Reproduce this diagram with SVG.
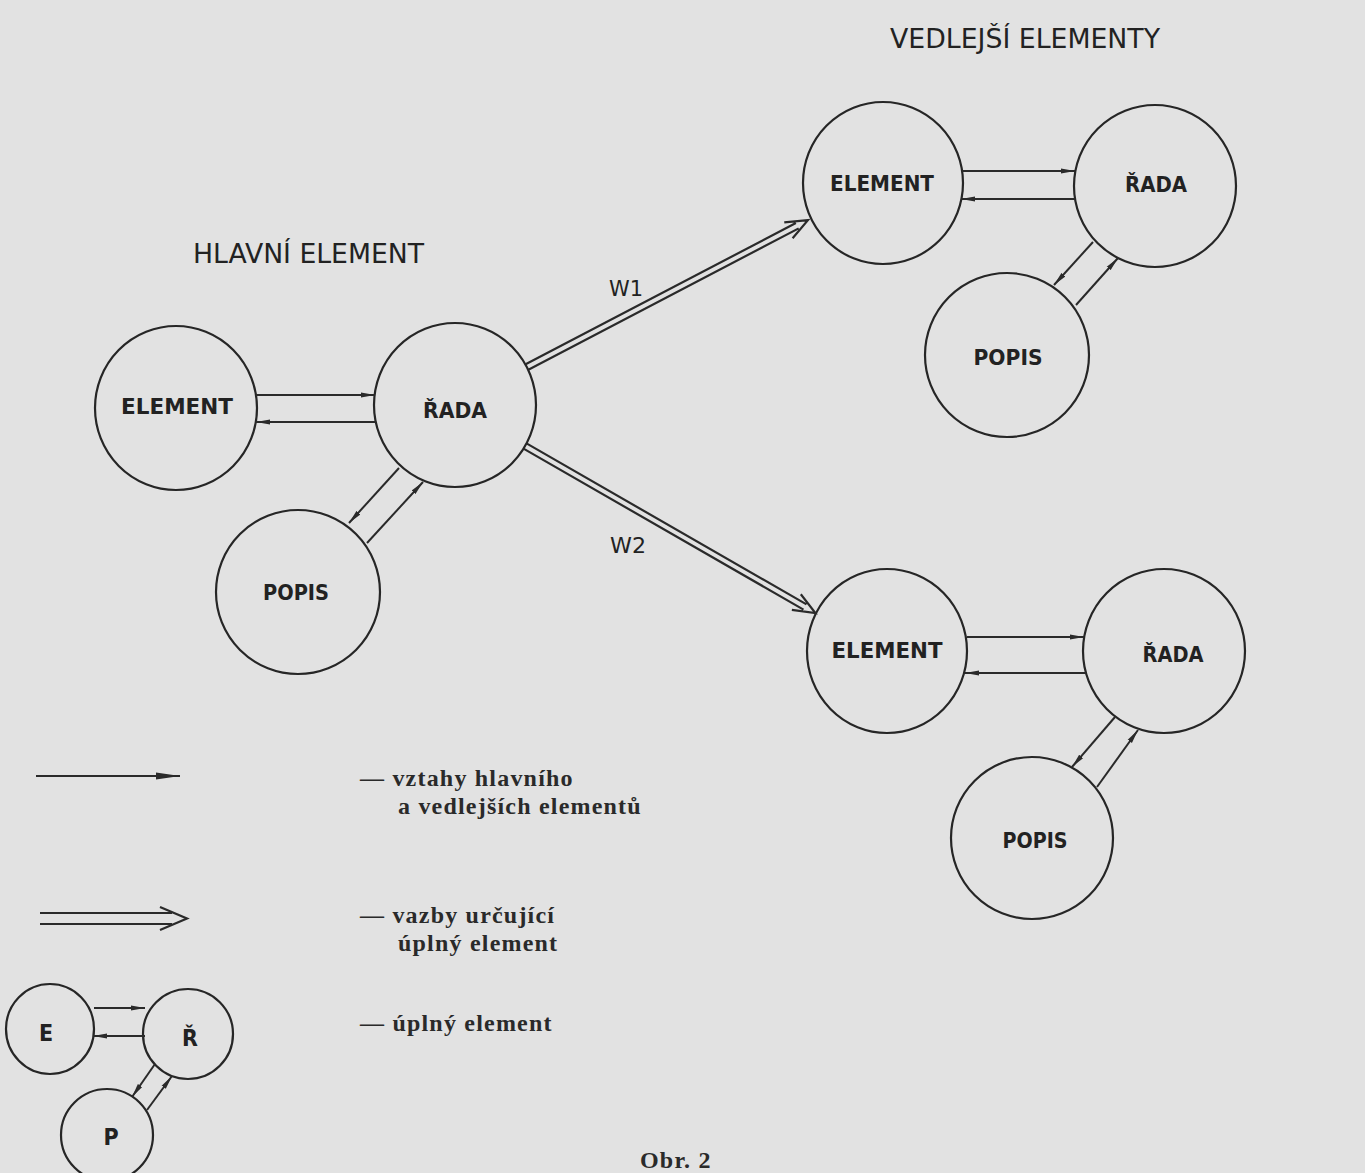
<svg xmlns="http://www.w3.org/2000/svg" width="1365" height="1173" viewBox="0 0 1365 1173">
<defs>
<style>
.node{fill:none;stroke:#262626;stroke-width:2.2}
.lbl{font-family:"DejaVu Sans",sans-serif;font-stretch:condensed;font-weight:bold;font-size:22px;fill:#222;text-anchor:middle}
.ttl{font-family:"DejaVu Sans",sans-serif;font-stretch:condensed;font-size:27px;fill:#222}
.ln{fill:none;stroke:#2a2a2a;stroke-width:2}
.dbl{fill:none;stroke:#2a2a2a;stroke-width:2.2}
.leg{font-family:"Liberation Serif",serif;font-weight:bold;font-size:24px;fill:#2a2a2a;letter-spacing:1.2px}
</style>
<marker id="ah" viewBox="0 0 14 6" refX="14" refY="3" markerWidth="14" markerHeight="6" markerUnits="userSpaceOnUse" orient="auto">
<path d="M0,0.4 L14,3 L0,5.6 Z" fill="#2a2a2a"/>
</marker>
<marker id="ahL" viewBox="0 0 24 8" refX="24" refY="4" markerWidth="24" markerHeight="8" markerUnits="userSpaceOnUse" orient="auto">
<path d="M0,0.5 L24,4 L0,7.5 Z" fill="#2a2a2a"/>
</marker>
</defs>
<rect width="1365" height="1173" fill="#e2e2e2"/>

<text class="ttl" x="193" y="263" textLength="231" lengthAdjust="spacingAndGlyphs">HLAVNÍ ELEMENT</text>
<text class="ttl" x="890" y="48" textLength="270" lengthAdjust="spacingAndGlyphs">VEDLEJŠÍ ELEMENTY</text>

<g id="main-element"><ellipse class="node" cx="176" cy="408" rx="81" ry="82"/><text class="lbl" x="177" y="414" textLength="112" lengthAdjust="spacingAndGlyphs">ELEMENT</text></g>
<g id="main-rada"><ellipse class="node" cx="455" cy="405" rx="81" ry="82"/><text class="lbl" x="455" y="418" textLength="64" lengthAdjust="spacingAndGlyphs">ŘADA</text></g>
<g id="main-popis"><ellipse class="node" cx="298" cy="592" rx="82" ry="82"/><text class="lbl" x="296" y="600" textLength="66" lengthAdjust="spacingAndGlyphs">POPIS</text></g>

<g id="v1-element"><ellipse class="node" cx="883" cy="183" rx="80" ry="81"/><text class="lbl" x="882" y="191" textLength="104" lengthAdjust="spacingAndGlyphs">ELEMENT</text></g>
<g id="v1-rada"><ellipse class="node" cx="1155" cy="186" rx="81" ry="81"/><text class="lbl" x="1156" y="192" textLength="62" lengthAdjust="spacingAndGlyphs">ŘADA</text></g>
<g id="v1-popis"><ellipse class="node" cx="1007" cy="355" rx="82" ry="82"/><text class="lbl" x="1008" y="365" textLength="69" lengthAdjust="spacingAndGlyphs">POPIS</text></g>

<g id="v2-element"><ellipse class="node" cx="887" cy="651" rx="80" ry="82"/><text class="lbl" x="887" y="658" textLength="111" lengthAdjust="spacingAndGlyphs">ELEMENT</text></g>
<g id="v2-rada"><ellipse class="node" cx="1164" cy="651" rx="81" ry="82"/><text class="lbl" x="1173" y="662" textLength="61" lengthAdjust="spacingAndGlyphs">ŘADA</text></g>
<g id="v2-popis"><ellipse class="node" cx="1032" cy="838" rx="81" ry="81"/><text class="lbl" x="1035" y="848" textLength="65" lengthAdjust="spacingAndGlyphs">POPIS</text></g>

<g id="mini-e"><ellipse class="node" cx="50" cy="1029" rx="44" ry="45"/><text class="lbl" x="46" y="1041" style="font-size:23px">E</text></g>
<g id="mini-r"><ellipse class="node" cx="188" cy="1034" rx="45" ry="45"/><text class="lbl" x="190" y="1046" style="font-size:23px">Ř</text></g>
<g id="mini-p"><ellipse class="node" cx="107" cy="1135" rx="46" ry="46"/><text class="lbl" x="111" y="1145" style="font-size:23px">P</text></g>

<g id="connectors">
<line class="ln" x1="256" y1="395" x2="375" y2="395" marker-end="url(#ah)"/>
<line class="ln" x1="376" y1="422" x2="256" y2="422" marker-end="url(#ah)"/>
<line class="ln" x1="399" y1="468" x2="349" y2="523" marker-end="url(#ah)"/>
<line class="ln" x1="367" y1="543" x2="423" y2="482" marker-end="url(#ah)"/>

<line class="ln" x1="962" y1="171" x2="1075" y2="171" marker-end="url(#ah)"/>
<line class="ln" x1="1075" y1="199" x2="961" y2="199" marker-end="url(#ah)"/>
<line class="ln" x1="1093" y1="242" x2="1054" y2="285" marker-end="url(#ah)"/>
<line class="ln" x1="1076" y1="305" x2="1118" y2="258" marker-end="url(#ah)"/>

<line class="ln" x1="967" y1="637" x2="1084" y2="637" marker-end="url(#ah)"/>
<line class="ln" x1="1086" y1="673" x2="965" y2="673" marker-end="url(#ah)"/>
<line class="ln" x1="1115" y1="717" x2="1072" y2="767" marker-end="url(#ah)"/>
<line class="ln" x1="1097" y1="787" x2="1138" y2="730" marker-end="url(#ah)"/>

<line class="ln" x1="94" y1="1008" x2="145" y2="1008" marker-end="url(#ah)"/>
<line class="ln" x1="145" y1="1036" x2="93" y2="1036" marker-end="url(#ah)"/>
<line class="ln" x1="155" y1="1064" x2="132" y2="1097" marker-end="url(#ah)"/>
<line class="ln" x1="147" y1="1110" x2="172" y2="1076" marker-end="url(#ah)"/>

<g transform="translate(527,367) rotate(-27.6)">
<path class="dbl" d="M0,-3 H305 M0,3 H305 M295,-9 L317,0 L295,9"/>
</g>
<g transform="translate(525,446) rotate(29.9)">
<path class="dbl" d="M0,-3 H323 M0,3 H323 M313,-9 L335,0 L313,9"/>
</g>
<text class="ttl" x="609" y="296" style="font-size:22px" textLength="34" lengthAdjust="spacingAndGlyphs">W1</text>
<text class="ttl" x="610" y="553" style="font-size:22px" textLength="36" lengthAdjust="spacingAndGlyphs">W2</text>
</g>

<g id="legend">
<line class="ln" x1="36" y1="776" x2="180" y2="776" stroke-width="2.4" marker-end="url(#ahL)"/>
<path class="dbl" d="M40,913 H172 M40,924 H172 M160,907 L187,918.5 L160,930" stroke-width="2.6"/>
<text class="leg" x="360" y="786">— vztahy hlavního</text>
<text class="leg" x="398" y="814">a vedlejších elementů</text>
<text class="leg" x="360" y="923">— vazby určující</text>
<text class="leg" x="398" y="951">úplný element</text>
<text class="leg" x="360" y="1031">— úplný element</text>
<text class="leg" x="640" y="1168">Obr. 2</text>
</g>
</svg>
